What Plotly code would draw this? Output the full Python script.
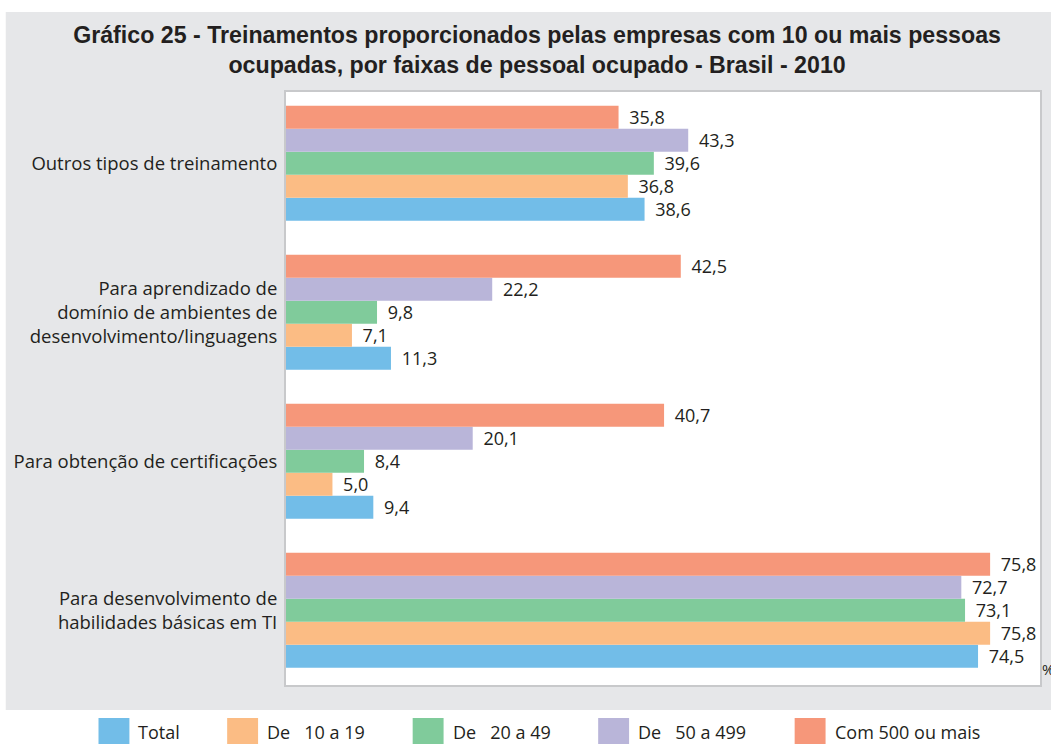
import plotly.graph_objects as go

categories = [
    "Para desenvolvimento de<br>habilidades básicas em TI",
    "Para obtenção de certificações",
    "Para aprendizado de<br>domínio de ambientes de<br>desenvolvimento/linguagens",
    "Outros tipos de treinamento",
]
series_names = ["Total", "De   10 a 19", "De   20 a 49", "De   50 a 499", "Com 500 ou mais"]
total = [74.5, 9.4, 11.3, 38.6]
de10_19 = [75.8, 5.0, 7.1, 36.8]
de20_49 = [73.1, 8.4, 9.8, 39.6]
de50_499 = [72.7, 20.1, 22.2, 43.3]
com500 = [75.8, 40.7, 42.5, 35.8]
series_values = [total, de10_19, de20_49, de50_499, com500]
colors = ["#72bde8", "#fbbc84", "#80cb9b", "#b9b5d9", "#f6977a"]

W, H = 1051, 744
L, R, T, B = 286, 9, 92, 59
pw, ph = W - L - R, H - T - B

def px_x(x):
    return (x - L) / pw

def px_y(y):
    return (H - B - y) / ph

label_font = "Open Sans, Noto Sans, DejaVu Sans, sans-serif"
text_color = "#231f20"

fig = go.Figure()
for name, vals, col in zip(series_names, series_values, colors):
    fig.add_trace(go.Bar(
        y=categories, x=vals, name=name, orientation="h",
        marker=dict(color=col, line=dict(width=0)),
        text=["\u00a0\u2009" + f"{v:.1f}".replace(".", ",") for v in vals],
        textposition="outside", cliponaxis=False, constraintext="none",
        textfont=dict(family=label_font, size=18, color=text_color),
        showlegend=False, hoverinfo="skip",
    ))

shapes = [
    dict(type="rect", xref="paper", yref="paper", layer="below",
         x0=px_x(5), x1=px_x(1060), y0=px_y(710), y1=px_y(12),
         fillcolor="#e6e7e9", line=dict(width=0)),
    dict(type="rect", xref="paper", yref="paper", layer="below",
         x0=0, x1=1, y0=0, y1=1,
         fillcolor="white", line=dict(width=0)),
]
annotations = [
    dict(text="%", xref="paper", yref="paper", x=px_x(1042), y=px_y(669),
         xanchor="left", yanchor="middle", showarrow=False,
         font=dict(family=label_font, size=15, color=text_color)),
]
legend_sym_x = [98, 227, 413, 599, 796]
for name, col, sx in zip(series_names, colors, legend_sym_x):
    shapes.append(dict(type="rect", xref="paper", yref="paper",
                       x0=px_x(sx), x1=px_x(sx + 31), y0=px_y(750), y1=px_y(718),
                       fillcolor=col, line=dict(width=0)))
    annotations.append(dict(text=name, xref="paper", yref="paper",
                            x=px_x(sx + 38), y=px_y(732), xanchor="left", yanchor="middle",
                            showarrow=False,
                            font=dict(family=label_font, size=18, color=text_color)))

fig.update_layout(
    width=W, height=H,
    margin=dict(l=L, r=R, t=T, b=B, pad=0),
    paper_bgcolor="white", plot_bgcolor="white",
    barmode="group", bargap=0.228, bargroupgap=0,
    title=dict(
        text="<b>Gráfico 25 - Treinamentos proporcionados pelas empresas com 10 ou mais pessoas<br>ocupadas, por faixas de pessoal ocupado - Brasil - 2010</b>",
        x=0.511, xref="container", xanchor="center", y=(H - 43) / H, yref="container", yanchor="middle",
        font=dict(family="Liberation Sans Narrow, Arial Narrow, Liberation Sans, sans-serif", size=23.2, color=text_color),
    ),
    xaxis=dict(range=[0, 81.17], showgrid=False, zeroline=False, showticklabels=False,
               showline=True, mirror=True, linecolor="#c8c9cb", linewidth=2, ticks="", fixedrange=True),
    yaxis=dict(range=[-0.501, 3.478], showgrid=False, zeroline=False, showline=True, mirror=True,
               linecolor="#c8c9cb", linewidth=2, ticks="", ticklabelstandoff=3, fixedrange=True,
               tickfont=dict(family=label_font, size=18.5, color=text_color)),
    shapes=shapes, annotations=annotations,
)
fig.write_html("out.html", config={"displayModeBar": False},
               post_script="document.body.style.margin='0';document.body.style.overflow='hidden';")
